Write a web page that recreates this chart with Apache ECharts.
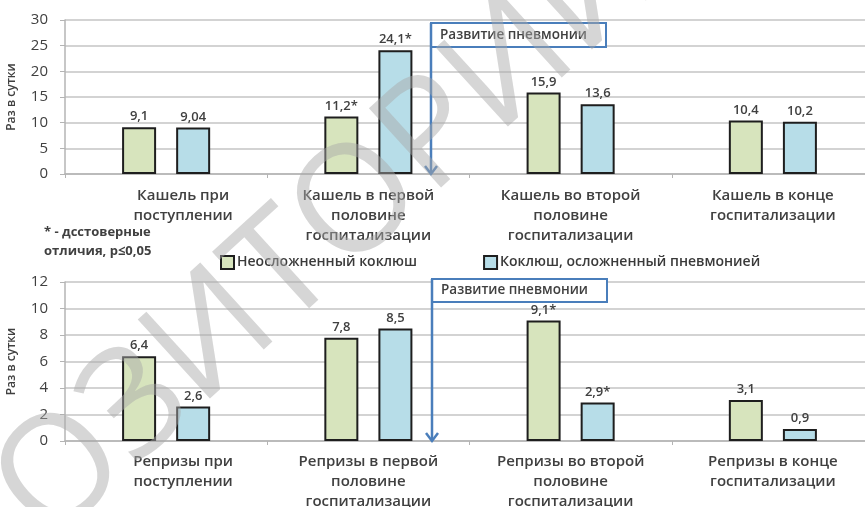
<!DOCTYPE html>
<html>
<head>
<meta charset="utf-8">
<script src="https://cdn.jsdelivr.net/npm/echarts@6/dist/echarts.min.js"></script>
<style>
  html, body { margin: 0; padding: 0; background: #fff; }
  #chart { width: 865px; height: 507px; }
</style>
</head>
<body>
<div id="chart"></div>
<script>
// Categories
const coughCategories = [
  'Кашель при\nпоступлении',
  'Кашель в первой\nполовине\nгоспитализации',
  'Кашель во второй\nполовине\nгоспитализации',
  'Кашель в конце\nгоспитализации'
];
const repriseCategories = [
  'Репризы при\nпоступлении',
  'Репризы в первой\nполовине\nгоспитализации',
  'Репризы во второй\nполовине\nгоспитализации',
  'Репризы в конце\nгоспитализации'
];

// Series names
const seriesNames = ['Неосложненный коклюш', 'Коклюш, осложненный пневмонией'];

// Cough episodes per day
const coughUncomplicated = [9.1, 11.2, 15.9, 10.4];
const coughPneumonia = [9.04, 24.1, 13.6, 10.2];
const coughUncomplicatedSig = ['', '*', '', ''];
const coughPneumoniaSig = ['', '*', '', ''];

// Reprises per day
const repUncomplicated = [6.4, 7.8, 9.1, 3.1];
const repPneumonia = [2.6, 8.5, 2.9, 0.9];
const repUncomplicatedSig = ['', '', '*', ''];
const repPneumoniaSig = ['', '', '*', ''];

// Axis settings
const coughAxis = { min: 0, max: 30, interval: 5 };
const repAxis = { min: 0, max: 12, interval: 2 };

const yAxisName = 'Раз в сутки';
const footnote = '* - дсстоверные\nотличия, р≤0,05';
const pneumoniaNote = 'Развитие пневмонии';
const watermark = 'ОЗИТОРИЙ';

const GREEN = '#d7e4bd';
const BLUE = '#b7dde8';
const FONT = '"Open Sans", "Noto Sans", sans-serif';
const TEXT = '#404040';

const chart = echarts.init(document.getElementById('chart'), null, { renderer: 'canvas' });

function labelFor(sig) {
  return {
    show: true,
    position: 'top',
    distance: 4,
    fontFamily: FONT,
    fontSize: 13,
    fontWeight: 600,
    color: TEXT,
    formatter: p => String(p.value).replace('.', ',') + sig[p.dataIndex]
  };
}

function barSeries(name, data, sig, color, axisIdx) {
  return {
    name: name,
    type: 'bar',
    xAxisIndex: axisIdx,
    yAxisIndex: axisIdx,
    data: data,
    barWidth: 34,
    barGap: '59%',
    itemStyle: { color: color, borderColor: '#1e1e1e', borderWidth: 2 },
    label: labelFor(sig),
    emphasis: { disabled: true }
  };
}

// The first label block sits a little right of its slot, clear of the value axis
function categoryItems(names) {
  return names.map((n, i) => i === 0
    ? { value: n, textStyle: { padding: [0, 0, 0, 34] } }
    : n);
}

function catAxis(names, gridIndex, margin) {
  return {
    type: 'category',
    gridIndex: gridIndex,
    data: categoryItems(names),
    axisLine: { lineStyle: { color: '#b4b4b4', width: 1.5 } },
    axisTick: { show: true, length: 4, lineStyle: { color: '#b4b4b4' } },
    axisLabel: {
      interval: 0,
      margin: margin,
      fontFamily: FONT,
      fontSize: 15,
      fontWeight: 600,
      lineHeight: 20,
      color: TEXT
    }
  };
}

function valAxis(cfg, gridIndex) {
  return {
    type: 'value',
    gridIndex: gridIndex,
    min: cfg.min,
    max: cfg.max,
    interval: cfg.interval,
    name: yAxisName,
    nameLocation: 'middle',
    nameGap: 47,
    nameRotate: 90,
    nameTextStyle: { fontFamily: FONT, fontSize: 12, fontWeight: 600, color: TEXT },
    axisLine: { show: true, lineStyle: { color: '#b4b4b4', width: 1.5 } },
    axisTick: { show: true, inside: false, length: 5, lineStyle: { color: '#b4b4b4' } },
    axisLabel: { margin: 17, fontFamily: FONT, fontSize: 15, color: TEXT },
    splitLine: { lineStyle: { color: '#c4c4c4', width: 1.5 } }
  };
}

// Annotation: box with a downward arrow marking pneumonia onset
function pneumoniaMarker(x, boxTop, boxBottom, boxRight, arrowEnd) {
  const c = '#4a7ebb';
  return [
    {
      type: 'rect',
      shape: { x: x, y: boxTop, width: boxRight - x, height: boxBottom - boxTop },
      style: { fill: '#fff', stroke: c, lineWidth: 2 },
      z: 10
    },
    {
      type: 'text',
      x: x + 9,
      y: (boxTop + boxBottom) / 2,
      style: {
        text: pneumoniaNote, fontFamily: FONT, fontSize: 13.5, fontWeight: 600,
        fill: TEXT, verticalAlign: 'middle'
      },
      z: 11
    },
    {
      type: 'line',
      shape: { x1: x, y1: boxTop, x2: x, y2: arrowEnd - 1 },
      style: { stroke: c, lineWidth: 2.5 },
      z: 10
    },
    {
      type: 'polyline',
      shape: { points: [[x - 6, arrowEnd - 8], [x, arrowEnd], [x + 6, arrowEnd - 8]] },
      style: { stroke: c, lineWidth: 2.5, fill: null },
      z: 10
    }
  ];
}

const option = {
  animation: false,
  backgroundColor: '#fff',
  grid: [
    { left: 65, top: 20, width: 809, height: 154, outerBoundsMode: 'none', containLabel: false },
    { left: 65, top: 282, width: 809, height: 159, outerBoundsMode: 'none', containLabel: false }
  ],
  legend: {
    data: seriesNames,
    left: 215,
    top: 250,
    itemWidth: 13,
    itemHeight: 13,
    itemGap: 66,
    icon: 'rect',
    textStyle: { fontFamily: FONT, fontSize: 14, fontWeight: 600, color: '#3a3a3a', padding: [0, 0, 0, -2] }
  },
  xAxis: [catAxis(coughCategories, 0, 12), catAxis(repriseCategories, 1, 11)],
  yAxis: [valAxis(coughAxis, 0), valAxis(repAxis, 1)],
  series: [
    barSeries(seriesNames[0], coughUncomplicated, coughUncomplicatedSig, GREEN, 0),
    barSeries(seriesNames[1], coughPneumonia, coughPneumoniaSig, BLUE, 0),
    barSeries(seriesNames[0], repUncomplicated, repUncomplicatedSig, GREEN, 1),
    barSeries(seriesNames[1], repPneumonia, repPneumoniaSig, BLUE, 1)
  ],
  graphic: [
    {
      type: 'text',
      left: 44,
      top: 223,
      style: {
        text: footnote, fontFamily: FONT, fontSize: 13, fontWeight: 'bold',
        fill: TEXT, lineHeight: 19
      }
    },
    ...pneumoniaMarker(431, 23, 47, 606, 174),
    ...pneumoniaMarker(432, 279, 302, 607, 441),
    // Repository watermark
    {
      type: 'text',
      x: 70,
      y: 570,
      rotation: 0.74,
      style: {
        text: watermark, fontFamily: FONT, fontSize: 150, fontWeight: 'normal',
        fill: 'rgba(170,170,170,0.48)', textVerticalAlign: 'bottom'
      },
      z: 50,
      silent: true
    }
  ]
};

chart.setOption(option);
</script>
</body>
</html>
